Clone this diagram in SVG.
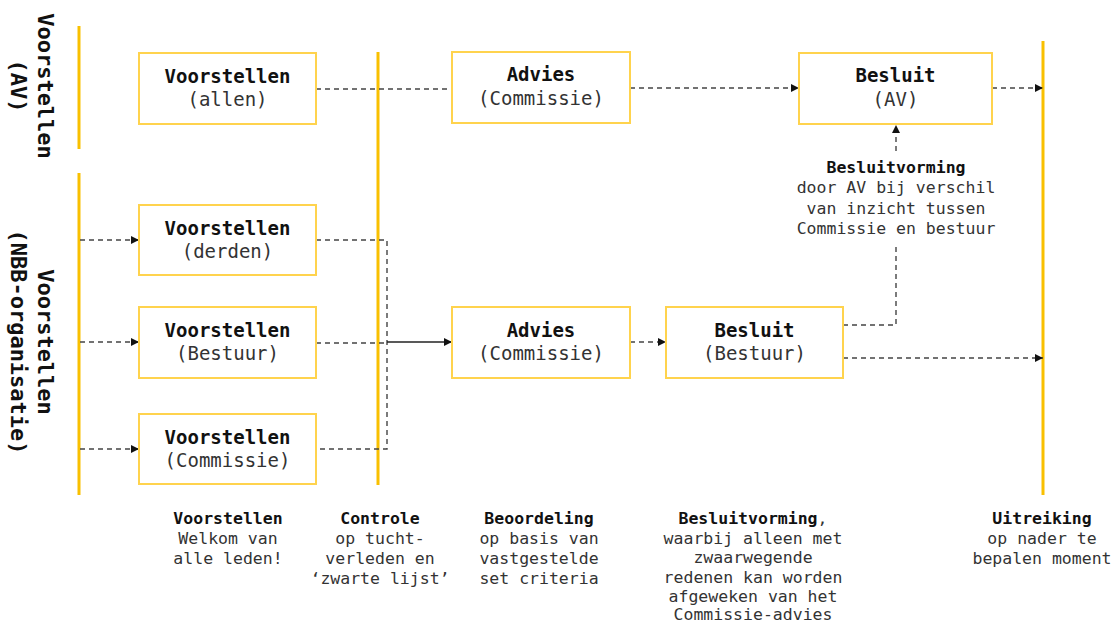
<svg xmlns="http://www.w3.org/2000/svg" width="1113" height="625" viewBox="0 0 1113 625">
<defs>
<marker id="ah" viewBox="0 0 10 10" refX="10" refY="5" markerWidth="8" markerHeight="8" markerUnits="userSpaceOnUse" orient="auto">
<path d="M0,0 L10,5 L0,10 z" fill="#111"/>
</marker>
<style>
.box{fill:#fff;stroke:#FFD34D;stroke-width:2}
.lane{stroke:#F9C000;stroke-width:3;fill:none}
.dash{stroke:#444;stroke-width:1.4;stroke-dasharray:5 4;fill:none}
.solid{stroke:#222;stroke-width:1.4;fill:none}
.t{font-family:"DejaVu Sans Mono","Liberation Mono",monospace;text-anchor:middle}
.b{font-weight:bold;fill:#111}
.r{fill:#333}
.n19{font-size:19px}
.n17{font-size:16.5px}
.v{font-size:22px;font-weight:bold;fill:#111}
</style>
</defs>
<rect width="1113" height="625" fill="#fff"/>

<g id="lanes">
<line class="lane" x1="79" y1="26" x2="79" y2="149"/>
<line class="lane" x1="79" y1="173" x2="79" y2="495"/>
<line class="lane" x1="378" y1="52" x2="378" y2="485"/>
<line class="lane" x1="1043" y1="41" x2="1043" y2="495"/>
</g>

<g id="lane-labels">
<g transform="translate(0,86) rotate(90)">
<text class="t v" x="0" y="-38">Voorstellen</text>
<text class="t v" x="0" y="-11">(AV)</text>
</g>
<g transform="translate(0,342) rotate(90)">
<text class="t v" x="0" y="-38">Voorstellen</text>
<text class="t v" x="0" y="-11">(NBB-organisatie)</text>
</g>
</g>

<g id="connectors">
<line class="dash" x1="316" y1="89" x2="452" y2="89"/>
<line class="dash" x1="630" y1="88" x2="799" y2="88" marker-end="url(#ah)"/>
<line class="dash" x1="992" y1="88" x2="1043" y2="88" marker-end="url(#ah)"/>
<line class="dash" x1="80" y1="240" x2="139" y2="240" marker-end="url(#ah)"/>
<line class="dash" x1="80" y1="342" x2="139" y2="342" marker-end="url(#ah)"/>
<line class="dash" x1="80" y1="449" x2="139" y2="449" marker-end="url(#ah)"/>
<polyline class="dash" points="316,240 387,240 387,449 316,449"/>
<line class="dash" x1="316" y1="343" x2="387" y2="343"/>
<line class="solid" x1="387" y1="342" x2="452" y2="342" marker-end="url(#ah)"/>
<line class="dash" x1="630" y1="342" x2="666" y2="342" marker-end="url(#ah)"/>
<line class="dash" x1="843" y1="358" x2="1043" y2="358" marker-end="url(#ah)"/>
<polyline class="dash" points="843,325 896,325 896,244"/>
<line class="dash" x1="896" y1="151" x2="896" y2="125" marker-end="url(#ah)"/>
</g>

<g id="n-allen">
<rect class="box" x="139" y="53" width="177" height="71"/>
<text class="t b n19" x="227.5" y="83">Voorstellen</text>
<text class="t r n19" x="227.5" y="106">(allen)</text>
</g>
<g id="n-derden">
<rect class="box" x="139" y="205" width="177" height="70"/>
<text class="t b n19" x="227.5" y="235">Voorstellen</text>
<text class="t r n19" x="227.5" y="258">(derden)</text>
</g>
<g id="n-bestuur">
<rect class="box" x="139" y="307" width="177" height="71"/>
<text class="t b n19" x="227.5" y="337">Voorstellen</text>
<text class="t r n19" x="227.5" y="360">(Bestuur)</text>
</g>
<g id="n-commissie">
<rect class="box" x="139" y="414" width="177" height="70"/>
<text class="t b n19" x="227.5" y="444">Voorstellen</text>
<text class="t r n19" x="227.5" y="467">(Commissie)</text>
</g>
<g id="n-advies-top">
<rect class="box" x="452" y="52" width="178" height="71"/>
<text class="t b n19" x="541" y="81">Advies</text>
<text class="t r n19" x="541" y="105">(Commissie)</text>
</g>
<g id="n-advies-bottom">
<rect class="box" x="452" y="307" width="178" height="71"/>
<text class="t b n19" x="541" y="337">Advies</text>
<text class="t r n19" x="541" y="360">(Commissie)</text>
</g>
<g id="n-besluit-av">
<rect class="box" x="799" y="53" width="193" height="71"/>
<text class="t b n19" x="895.5" y="82">Besluit</text>
<text class="t r n19" x="895.5" y="106">(AV)</text>
</g>
<g id="n-besluit-bestuur">
<rect class="box" x="666" y="307" width="177" height="71"/>
<text class="t b n19" x="754.5" y="337">Besluit</text>
<text class="t r n19" x="754.5" y="360">(Bestuur)</text>
</g>

<g id="label-besluitvorming-av">
<text class="t b n17" x="896" y="173">Besluitvorming</text>
<text class="t r n17" x="896" y="193">door AV bij verschil</text>
<text class="t r n17" x="896" y="214">van inzicht tussen</text>
<text class="t r n17" x="896" y="234">Commissie en bestuur</text>
</g>

<g id="bottom-labels">
<text class="t b n17" x="228" y="524">Voorstellen</text>
<text class="t r n17" x="228" y="544">Welkom van</text>
<text class="t r n17" x="228" y="564">alle leden!</text>

<text class="t b n17" x="380" y="524">Controle</text>
<text class="t r n17" x="380" y="544">op tucht-</text>
<text class="t r n17" x="380" y="564">verleden en</text>
<text class="t r n17" x="380" y="584">‘zwarte lijst’</text>

<text class="t b n17" x="539" y="524">Beoordeling</text>
<text class="t r n17" x="539" y="544">op basis van</text>
<text class="t r n17" x="539" y="564">vastgestelde</text>
<text class="t r n17" x="539" y="584">set criteria</text>

<text class="t n17" x="753" y="524"><tspan class="b">Besluitvorming</tspan><tspan class="r">,</tspan></text>
<text class="t r n17" x="753" y="543.5">waarbij alleen met</text>
<text class="t r n17" x="753" y="563">zwaarwegende</text>
<text class="t r n17" x="753" y="582.5">redenen kan worden</text>
<text class="t r n17" x="753" y="602">afgeweken van het</text>
<text class="t r n17" x="753" y="620">Commissie-advies</text>

<text class="t b n17" x="1042" y="524">Uitreiking</text>
<text class="t r n17" x="1042" y="544">op nader te</text>
<text class="t r n17" x="1042" y="564">bepalen moment</text>
</g>
</svg>
